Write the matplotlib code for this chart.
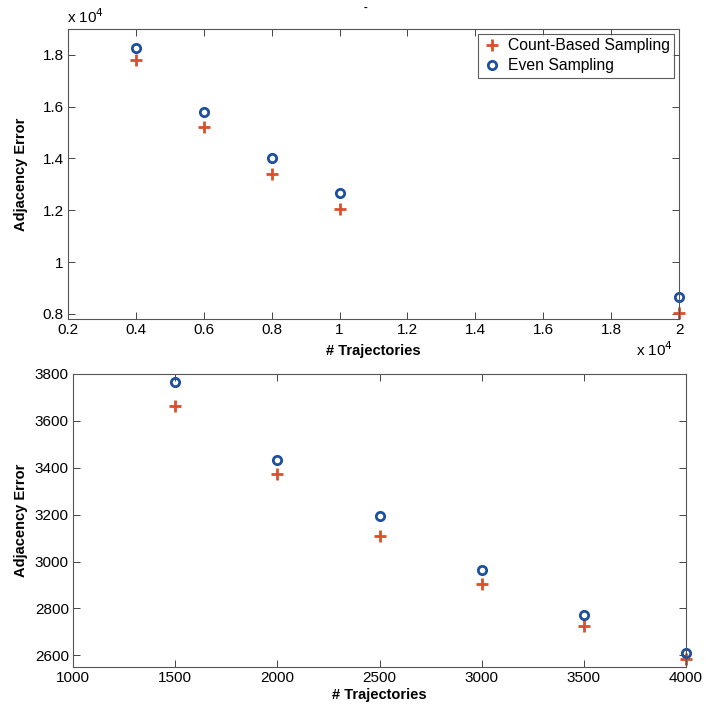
import numpy as np
import matplotlib
matplotlib.use('Agg')
import matplotlib.pyplot as plt

plt.rcParams['font.family'] = ['Liberation Sans', 'DejaVu Sans']

# top panel: trajectories and adjacency error (raw units)
traj_top = [4000, 6000, 8000, 10000, 20000]
count_top = [17820, 15200, 13400, 12030, 8050]
even_top = [18270, 15800, 14010, 12680, 8650]

# bottom panel
traj_bot = [1500, 2000, 2500, 3000, 3500, 4000]
count_bot = [3664, 3374, 3107, 2905, 2727, 2586]
even_bot = [3765, 3435, 3196, 2963, 2770, 2611]

top_xticks = [0.2, 0.4, 0.6, 0.8, 1, 1.2, 1.4, 1.6, 1.8, 2]
top_yticks = [0.8, 1, 1.2, 1.4, 1.6, 1.8]
bot_xticks = [1000, 1500, 2000, 2500, 3000, 3500, 4000]
bot_yticks = [2600, 2800, 3000, 3200, 3400, 3600, 3800]

red = '#d9502a'
blue = '#1f4f9f'
W = 709.0

fig = plt.figure(figsize=(7.09, 7.09), dpi=100)
ax1 = fig.add_axes([68 / W, 1 - 319 / W, (679 - 68) / W, (319 - 29) / W])
ax2 = fig.add_axes([73 / W, 1 - 667 / W, (686 - 73) / W, (667 - 374) / W])

def style(ax):
    ax.tick_params(direction='in', length=5, width=0.7, top=True, right=True,
                   labelsize=11, colors='#444444', labelcolor='black', pad=3)
    for s in ax.spines.values():
        s.set_color('#555555')
        s.set_linewidth(0.8)
    ax.set_xlabel('# Trajectories', fontsize=10.5, fontweight='bold', labelpad=1)
    ax.set_ylabel('Adjacency Error', fontsize=10.5, fontweight='bold')

scale = 1e4
ax1.plot(np.array(traj_top) / scale, np.array(count_top) / scale, '+', color=red,
         ms=8, mew=2, label='Count-Based Sampling', clip_on=False)
ax1.plot(np.array(traj_top) / scale, np.array(even_top) / scale, 'o', color=blue,
         mfc='none', ms=6, mew=2, label='Even Sampling', clip_on=False)
ax1.set_xlim(0.2, 2)
ax1.set_ylim(0.78, 1.9)
ax1.set_xticks(top_xticks)
ax1.set_xticklabels([('%g' % t) for t in top_xticks])
ax1.set_yticks(top_yticks)
ax1.set_yticklabels([('%g' % t) for t in top_yticks])
style(ax1)
ax1.xaxis.set_label_coords(0.5, -0.085)
ax1.yaxis.set_label_coords(-0.065, 0.5)
leg = ax1.legend(loc='upper right', fontsize=11.3, frameon=True, fancybox=False,
                 borderaxespad=0.3, handletextpad=0.4, borderpad=0.3,
                 labelspacing=0.3, handlelength=1.2)
leg.get_frame().set_edgecolor('#333333')
leg.get_frame().set_linewidth(0.8)

ax2.plot(traj_bot, count_bot, '+', color=red, ms=8, mew=2, clip_on=False)
ax2.plot(traj_bot, even_bot, 'o', color=blue, mfc='none', ms=6, mew=2, clip_on=False)
ax2.set_xlim(1000, 4000)
ax2.set_ylim(2550, 3800)
ax2.set_xticks(bot_xticks)
ax2.set_yticks(bot_yticks)
style(ax2)
ax2.xaxis.set_label_coords(0.5, -0.07)
ax2.yaxis.set_label_coords(-0.073, 0.5)

fig.text(67 / W, 1 - 23 / W, r'x 10$^4$', fontsize=11, va='baseline', ha='left')
fig.text(636 / W, 1 - 356 / W, r'x 10$^4$', fontsize=11, va='baseline', ha='left')
fig.text(365 / W, 1 - 8 / W, '-', fontsize=8, fontweight='bold', ha='center', va='center')

fig.savefig('out.png', dpi=100)
